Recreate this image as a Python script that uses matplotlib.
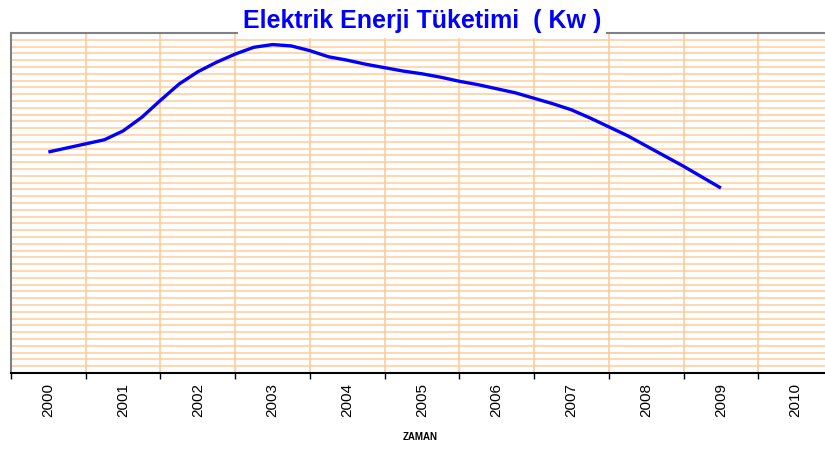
import matplotlib
matplotlib.use("Agg")
import matplotlib.pyplot as plt
import numpy as np

plt.rcParams['font.family'] = ['Liberation Sans', 'DejaVu Sans']

years = [str(y) for y in range(2000, 2011)]
# sample positions (in years, quarterly) and consumption values (grid units)
t = [2000.0, 2000.25, 2000.5, 2000.75, 2001.0, 2001.25, 2001.5, 2001.75,
     2002.0, 2002.25, 2002.5, 2002.75, 2003.0, 2003.25, 2003.5, 2003.75,
     2004.0, 2004.25, 2004.5, 2004.75, 2005.0, 2005.25, 2005.5, 2005.75,
     2006.0, 2006.25, 2006.5, 2006.75, 2007.0, 2007.25, 2007.5, 2007.75,
     2008.0, 2008.25, 2008.5, 2008.75, 2009.0]
consumption = [32.5, 33.1, 33.7, 34.3, 35.6, 37.6, 40.1, 42.5,
               44.3, 45.7, 46.9, 47.9, 48.3, 48.1, 47.4, 46.5,
               46.0, 45.4, 44.9, 44.4, 44.0, 43.5, 42.9, 42.4,
               41.8, 41.2, 40.4, 39.6, 38.7, 37.5, 36.2, 34.9,
               33.4, 31.9, 30.4, 28.8, 27.2]

W, H = 825, 451
fig = plt.figure(figsize=(W / 100, H / 100), dpi=100)
ax = fig.add_axes([11 / W, (H - 373) / H, 822 / W, 340 / H])

grid_c = '#FFCC99'
x = np.array(t) - 2000
ax.set_xlim(-0.5, 10.5)
ax.set_ylim(0, 50)

# horizontal gridlines
for yv in np.arange(1, 50):
    ax.axhline(yv, color=grid_c, lw=1.1, zorder=1)
# vertical gridlines at category boundaries
for xv in np.arange(0.5, 10.5, 1):
    ax.axvline(xv, color=grid_c, lw=1.2, zorder=1)

ax.plot(x, consumption, color='#0000FF', lw=2.4, zorder=3, solid_capstyle='butt')

ax.set_xticks(np.arange(-0.5, 11, 1))
ax.set_xticklabels([])
ax.set_xticks(np.arange(0, 11), minor=True)
ax.set_xticklabels(years, minor=True, rotation=90, fontsize=11)
ax.tick_params(axis='x', which='major', length=4, width=1, color='black', direction='out')
ax.tick_params(axis='x', which='minor', length=0, pad=7)
ax.set_yticks([])

ax.spines['left'].set_color('#808080')
ax.spines['top'].set_color('#808080')
ax.spines['left'].set_linewidth(1.5)
ax.spines['top'].set_linewidth(1.5)
ax.spines['bottom'].set_color('black')
ax.spines['bottom'].set_linewidth(1.5)
ax.spines['right'].set_visible(False)

fig.text(422 / W, 1 - 21 / H, 'Elektrik Enerji Tüketimi  ( Kw )', color='#0000FF',
         fontsize=18, fontweight='bold', ha='center', va='center',
         bbox=dict(boxstyle='square,pad=0.2', facecolor='white', edgecolor='none'))
fig.text(420 / W, 1 - 437 / H, 'ZAMAN', fontsize=7, fontweight='bold',
         ha='center', va='center')

fig.savefig('out.png', dpi=100)
